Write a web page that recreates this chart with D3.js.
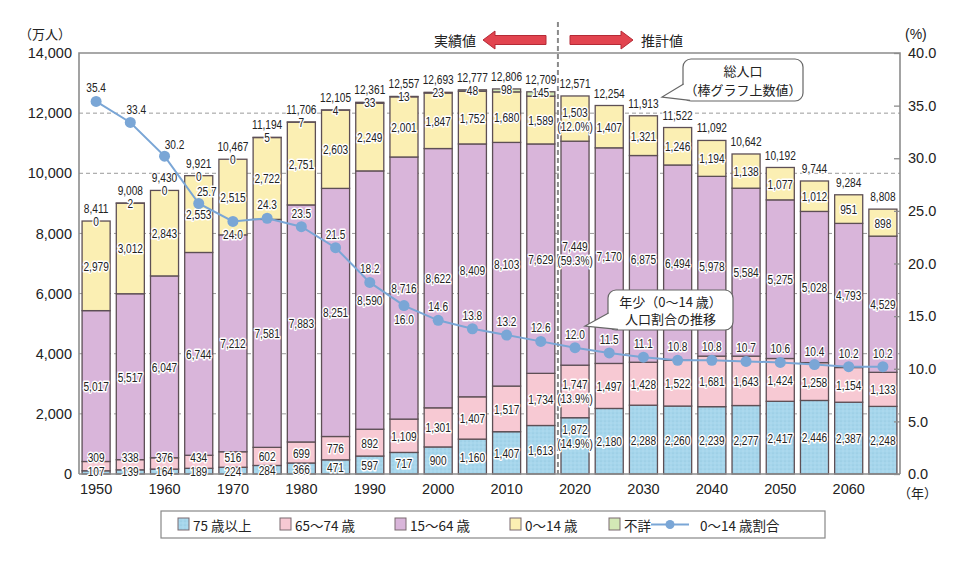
<!DOCTYPE html>
<html><head><meta charset="utf-8">
<script src="https://cdn.jsdelivr.net/npm/d3@7"></script>
<style>body{margin:0;background:#fff}svg{display:block}</style>
</head><body>
<svg id="c" width="960" height="563"></svg>
<script>
const years=[1950,1955,1960,1965,1970,1975,1980,1985,1990,1995,2000,2005,2010,2015,2020,2025,2030,2035,2040,2045,2050,2055,2060,2065];
const age75plus=[107,139,164,189,224,284,366,471,597,717,900,1160,1407,1613,1872,2180,2288,2260,2239,2277,2417,2446,2387,2248];
const age65to74=[309,338,376,434,516,602,699,776,892,1109,1301,1407,1517,1734,1747,1497,1428,1522,1681,1643,1424,1258,1154,1133];
const age15to64=[5017,5517,6047,6744,7212,7581,7883,8251,8590,8716,8622,8409,8103,7629,7449,7170,6875,6494,5978,5584,5275,5028,4793,4529];
const age0to14=[2979,3012,2843,2553,2515,2722,2751,2603,2249,2001,1847,1752,1680,1589,1503,1407,1321,1246,1194,1138,1077,1012,951,898];
const unknown=[0,2,0,0,0,5,7,4,33,13,23,48,98,145,null,null,null,null,null,null,null,null,null,null];
const totals=[8411,9008,9430,9921,10467,11194,11706,12105,12361,12557,12693,12777,12806,12709,12571,12254,11913,11522,11092,10642,10192,9744,9284,8808];
const childRatio=[35.4,33.4,30.2,25.7,24.0,24.3,23.5,21.5,18.2,16.0,14.6,13.8,13.2,12.6,12.0,11.5,11.1,10.8,10.8,10.7,10.6,10.4,10.2,10.2];
const shareYear=2020;
const shares2020={age75plus:14.9,age65to74:13.9,age15to64:59.3,age0to14:12.0};
const leftTicks=[0,2000,4000,6000,8000,10000,12000,14000];
const rightTicks=[0,5,10,15,20,25,30,35,40];
const yearTicks=[1950,1960,1970,1980,1990,2000,2010,2020,2030,2040,2050,2060];
const seriesNames=["75 歳以上","65～74 歳","15～64 歳","0～14 歳","不詳"];
const seriesKeys=["age75plus","age65to74","age15to64","age0to14","unknown"];
const colors=["#a6d6ec","#f7c9d3","#d9b5da","#fbefb3","#d3e8b6"];
const lineColor="#7aa6d6";

const svg=d3.select("#c");
const L=79,R=900,T=53,B=474;
const x=d3.scaleBand().domain(years).range([L,R]).paddingInner(0.18).paddingOuter(0.09);
const y=d3.scaleLinear().domain([0,14000]).range([B,T]);
const y2=d3.scaleLinear().domain([0,40]).range([B,T]);
const numFont="'Liberation Sans',Arial,sans-serif";
const jpFont="'Noto Sans CJK JP',sans-serif";
const axFont="'Liberation Sans',Arial,sans-serif";
const fmt=d3.format(",");

const defs=svg.append("defs");
const pat=defs.append("pattern").attr("id","dots").attr("width",4).attr("height",4).attr("patternUnits","userSpaceOnUse");
pat.append("rect").attr("width",4).attr("height",4).attr("fill",colors[0]);
pat.append("circle").attr("cx",1).attr("cy",1).attr("r",0.6).attr("fill","#8cc0d8");
pat.append("circle").attr("cx",3).attr("cy",3).attr("r",0.5).attr("fill","#c4e6f4");

svg.append("g").selectAll("line").data(leftTicks.filter(d=>d>0&&d<14000)).join("line")
  .attr("x1",L).attr("x2",R).attr("y1",d=>y(d)).attr("y2",d=>y(d))
  .attr("stroke","#9a9a9a").attr("stroke-width",1).attr("stroke-dasharray","4,3");

const rows=years.map((yr,i)=>({year:yr,age75plus:age75plus[i],age65to74:age65to74[i],age15to64:age15to64[i],age0to14:age0to14[i],unknown:unknown[i]||0,hasUnknown:unknown[i]!==null,total:totals[i],ratio:childRatio[i]}));
const stack=d3.stack().keys(seriesKeys)(rows);

const bars=svg.append("g");
stack.forEach((s,k)=>{
  bars.append("g").selectAll("rect").data(s.filter(d=>k<4||d.data.hasUnknown)).join("rect")
    .attr("x",d=>x(d.data.year)).attr("width",x.bandwidth())
    .attr("y",d=>y(d[1])).attr("height",d=>Math.max(0,y(d[0])-y(d[1])))
    .attr("fill",k===0?"url(#dots)":colors[k])
    .attr("stroke","#5d4f55").attr("stroke-width",1.3);
});

const divX=(x(2015)+x.bandwidth()+x(2020))/2;
svg.append("line").attr("x1",divX).attr("x2",divX).attr("y1",22).attr("y2",B)
  .attr("stroke","#8a8a8a").attr("stroke-width",2).attr("stroke-dasharray","5,3");

svg.append("path").attr("d",`M${L},${B}V${T}H${R}V${B}`).attr("fill","none").attr("stroke","#8c8c8c").attr("stroke-width",1.6);
svg.append("line").attr("x1",L).attr("x2",R).attr("y1",B).attr("y2",B).attr("stroke","#8c8c8c").attr("stroke-width",1.6);

const ga=svg.append("g").attr("transform",`translate(${L},0)`)
  .call(d3.axisLeft(y).tickValues(leftTicks).tickFormat(d3.format(",")).tickSize(0).tickPadding(7));
ga.select(".domain").remove();
ga.selectAll("text").attr("font-family",axFont).attr("font-size",14.5).attr("fill","#222");
const gr=svg.append("g").attr("transform",`translate(${R},0)`)
  .call(d3.axisRight(y2).tickValues(rightTicks).tickFormat(d3.format(".1f")).tickSize(-6).tickPadding(8));
gr.select(".domain").remove();
gr.selectAll("line").attr("stroke","#8c8c8c").attr("stroke-width",1.3);
gr.selectAll("text").attr("font-family",axFont).attr("font-size",14.5).attr("fill","#222");
const gx=svg.append("g").attr("transform",`translate(0,${B})`)
  .call(d3.axisBottom(x).tickValues(yearTicks).tickSize(0).tickPadding(10));
gx.select(".domain").remove();
gx.selectAll("text").attr("font-family",axFont).attr("font-size",14.5).attr("fill","#222");

svg.append("text").attr("x",19).attr("y",39).text("（万人）").attr("font-family",jpFont).attr("font-size",13).attr("fill","#222");
svg.append("text").attr("x",905).attr("y",39).text("(%)").attr("font-family",axFont).attr("font-size",14).attr("fill","#222");
svg.append("text").attr("x",898).attr("y",498).text("（年）").attr("font-family",jpFont).attr("font-size",13).attr("fill","#222");

const labG=svg.append("g");
function lab(xp,yp,txt,size){
  labG.append("g").attr("transform",`translate(${xp},${yp}) scale(0.78,1)`)
    .append("text").attr("text-anchor","middle").attr("dominant-baseline","central")
    .attr("font-family",numFont).attr("font-size",size||13).attr("fill","#222")
    .attr("stroke","#fff").attr("stroke-width",3).attr("stroke-linejoin","round").attr("paint-order","stroke").text(txt);
}
function lab2(xp,yp,t1,t2){lab(xp,yp-7,t1);lab(xp,yp+7,t2);}
rows.forEach((r,i)=>{
  const cx=x(r.year)+x.bandwidth()/2;
  const s=k=>stack[k][i];
  const c=k=>(y(s(k)[0])+y(s(k)[1]))/2;
  const is2020=r.year===shareYear;
  const y75=Math.min(c(0),B-3);
  const y65=Math.min(c(1),y75-14);
  if(is2020){
    lab2(cx,c(0)-10,fmt(r.age75plus),`(${shares2020.age75plus.toFixed(1)}%)`);
    lab2(cx,c(1),fmt(r.age65to74),`(${shares2020.age65to74.toFixed(1)}%)`);
    lab2(cx,c(2),fmt(r.age15to64),`(${shares2020.age15to64.toFixed(1)}%)`);
    lab2(cx,c(3),fmt(r.age0to14),`(${shares2020.age0to14.toFixed(1)}%)`);
  }else{
    lab(cx,y75,fmt(r.age75plus));
    lab(cx,y65,fmt(r.age65to74));
    lab(cx,c(2),fmt(r.age15to64));
    lab(cx,c(3),fmt(r.age0to14));
  }
  if(r.hasUnknown) lab(cx,y(s(4)[1]),fmt(r.unknown));
  lab(cx,y(r.total)-13,fmt(r.total));
});

const line=d3.line().x(d=>x(d.year)+x.bandwidth()/2).y(d=>y2(d.ratio));
svg.append("path").datum(rows).attr("d",line).attr("fill","none").attr("stroke",lineColor).attr("stroke-width",2);
svg.append("g").selectAll("circle").data(rows).join("circle")
  .attr("cx",d=>x(d.year)+x.bandwidth()/2).attr("cy",d=>y2(d.ratio)).attr("r",5.5).attr("fill",lineColor);
const rOff={1955:[6,-13],1960:[10,-12],1965:[8,-13],1970:[0,13],1995:[0,13]};
rows.forEach(r=>{
  const o=rOff[r.year]||[0,-14];
  lab(x(r.year)+x.bandwidth()/2+o[0],y2(r.ratio)+o[1],r.ratio.toFixed(1));
});

function arrow(x0,x1,yc,dir){
  const h=4.5,hh=9,hl=12;
  let p;
  if(dir<0) p=`M${x0},${yc}L${x0+hl},${yc-hh}V${yc-h}H${x1}V${yc+h}H${x0+hl}V${yc+hh}Z`;
  else p=`M${x1},${yc}L${x1-hl},${yc-hh}V${yc-h}H${x0}V${yc+h}H${x1-hl}V${yc+hh}Z`;
  svg.append("path").attr("d",p).attr("fill","#e2444f").attr("stroke","#b52a36").attr("stroke-width",1);
}
arrow(483,546,40,-1);
arrow(570,633,40,1);
svg.append("text").attr("x",476).attr("y",46).attr("text-anchor","end").text("実績値").attr("font-family",jpFont).attr("font-size",14).attr("fill","#222");
svg.append("text").attr("x",641).attr("y",46).text("推計値").attr("font-family",jpFont).attr("font-size",14).attr("fill","#222");

function callout(bx,by,bw,bh,p1,p2,tip,lines,fs,gap){
  svg.append("rect").attr("x",bx).attr("y",by).attr("width",bw).attr("height",bh).attr("rx",8)
    .attr("fill","#fff").attr("stroke","#666").attr("stroke-width",1.2);
  svg.append("path").attr("d",`M${p1[0]},${p1[1]}L${tip[0]},${tip[1]}L${p2[0]},${p2[1]}Z`).attr("fill","#fff");
  svg.append("path").attr("d",`M${p1[0]},${p1[1]}L${tip[0]},${tip[1]}L${p2[0]},${p2[1]}`).attr("fill","none").attr("stroke","#666").attr("stroke-width",1.2);
  lines.forEach((t,i)=>svg.append("text").attr("x",bx+bw/2).attr("y",by+bh/2+(i-(lines.length-1)/2)*gap).attr("dominant-baseline","central")
    .attr("text-anchor","middle").text(t).attr("font-family",jpFont).attr("font-size",fs).attr("fill","#222"));
}
callout(683,59,120,42,[683.6,84],[690,100.4],[662,97],["総人口","（棒グラフ上数値）"],13,19);
callout(608,290,125,40,[608.6,313],[618,329.4],[585,326],["年少（0～14 歳）","人口割合の推移"],13,17.5);

const lg=svg.append("g");
lg.append("rect").attr("x",161).attr("y",511).attr("width",664).attr("height",27).attr("fill","#fff").attr("stroke","#888").attr("stroke-width",1.2);
const lx=[178,280,395,510,609];
seriesNames.forEach((n,k)=>{
  lg.append("rect").attr("x",lx[k]).attr("y",518).attr("width",11).attr("height",12)
    .attr("fill",k===0?"url(#dots)":colors[k]).attr("stroke","#7a6a70").attr("stroke-width",1);
  lg.append("text").attr("x",lx[k]+15).attr("y",524.5).attr("dominant-baseline","central").text(n)
    .attr("font-family",jpFont).attr("font-size",13.5).attr("fill","#222");
});
lg.append("line").attr("x1",651).attr("x2",689).attr("y1",524.5).attr("y2",524.5).attr("stroke",lineColor).attr("stroke-width",2);
lg.append("circle").attr("cx",670).attr("cy",524.5).attr("r",4.5).attr("fill",lineColor);
lg.append("text").attr("x",700).attr("y",524.5).attr("dominant-baseline","central").text("0～14 歳割合")
  .attr("font-family",jpFont).attr("font-size",13.5).attr("fill","#222");
</script>
</body></html>
